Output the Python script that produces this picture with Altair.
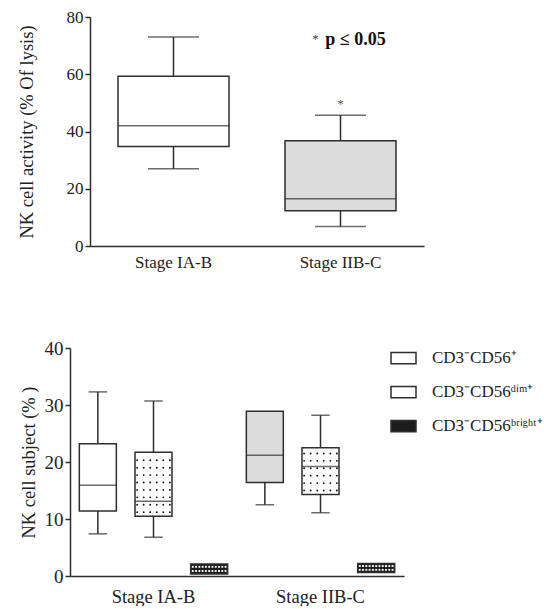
import altair as alt
import numpy as np
import pandas as pd

FONT = "Liberation Serif"
INK = "#2e2e2e"

# ---------------- top panel data ----------------
top_groups = ["Stage IA-B", "Stage IIB-C"]
top_min = [27.0, 6.8]
top_q1 = [34.8, 12.3]
top_median = [42.0, 16.5]
top_q3 = [59.3, 36.8]
top_max = [73.0, 45.7]
top_fill = ["#ffffff", "#dcdcdc"]
top_title = "NK cell activity (% Of lysis)"
sig_text = ["p ≤ 0.05"]
sig_star = ["*"]
sig_group = ["Stage IIB-C"]
sig_y = [72.0]
star_y = [49.5]

# ---------------- bottom panel data ----------------
bot_groups = ["Stage IA-B"] * 3 + ["Stage IIB-C"] * 3
bot_subset_idx = [0, 1, 2, 0, 1, 2]
subset_names = ["CD3⁻CD56⁺", "CD3⁻CD56ᵈⁱᵐ⁺", "CD3⁻CD56ᵇʳⁱᵍʰᵗ⁺"]
bot_min = [7.4, 6.8, 0.35, 12.5, 11.1, 0.6]
bot_q1 = [11.4, 10.5, 0.35, 16.4, 14.3, 0.6]
bot_median = [15.9, 13.1, 1.2, 21.2, 19.2, 1.4]
bot_q3 = [23.2, 21.7, 2.1, 28.9, 22.5, 2.2]
bot_max = [32.3, 30.7, 2.1, 28.9, 28.2, 2.2]
bot_fill = ["#ffffff", "#ffffff", "#1c1c1c", "#dcdcdc", "#ffffff", "#1c1c1c"]
bot_pattern = ["none", "dots", "checks", "none", "dots", "checks"]
bot_title = "NK cell subject (%  )"

# ---------------- top chart ----------------
top_df = pd.DataFrame(dict(group=top_groups, lo=top_min, q1=top_q1, med=top_median,
                           q3=top_q3, hi=top_max, fill=top_fill))

SHIFT = 20  # top panel starts further right than the bottom one
xt = alt.X("group:N", sort=top_groups,
           scale=alt.Scale(paddingInner=0, paddingOuter=0, range=[SHIFT, SHIFT + 334]),
           axis=alt.Axis(title=None, labelAngle=0, ticks=False, labelPadding=8,
                         labelFontSize=17, labelFont=FONT, labelColor="#222",
                         domainColor=INK, domainWidth=1.5))
yscale_t = alt.Scale(domain=[0, 80], nice=False)
yaxis_t = alt.Axis(values=[0, 20, 40, 60, 80], title=top_title, titleFont=FONT,
                   titleFontSize=18.5, titleFontWeight="normal", titleColor="#222",
                   titlePadding=30, tickSize=5, tickWidth=1.5, tickColor=INK,
                   labelPadding=2, labelFont=FONT, labelFontSize=17, labelColor="#222",
                   minExtent=24, maxExtent=24, offset=-SHIFT, grid=False,
                   domainColor=INK, domainWidth=1.5)

tb = alt.Chart(top_df)
t_whisk_hi = tb.mark_rule(color=INK, strokeWidth=1.5).encode(
    x=xt, y=alt.Y("hi:Q", scale=yscale_t, axis=yaxis_t), y2="q3:Q")
t_whisk_lo = tb.mark_rule(color=INK, strokeWidth=1.5).encode(
    x=xt, y=alt.Y("q1:Q", scale=yscale_t), y2="lo:Q")
t_box = tb.mark_bar(width=111, stroke=INK, strokeWidth=1.5).encode(
    x=xt, y=alt.Y("q1:Q", scale=yscale_t), y2="q3:Q", fill=alt.Fill("fill:N", scale=None))
t_med = tb.mark_tick(size=111, thickness=1.5, color=INK, orient="horizontal").encode(
    x=xt, y=alt.Y("med:Q", scale=yscale_t))
t_cap_hi = tb.mark_tick(size=51, thickness=1.5, color=INK, orient="horizontal").encode(
    x=xt, y=alt.Y("hi:Q", scale=yscale_t))
t_cap_lo = tb.mark_tick(size=51, thickness=1.5, color=INK, orient="horizontal").encode(
    x=xt, y=alt.Y("lo:Q", scale=yscale_t))

sig_df = pd.DataFrame(dict(group=sig_group, y=sig_y, text=sig_text, star=sig_star, sy=star_y))
t_sig = alt.Chart(sig_df).mark_text(font=FONT, fontSize=18, fontWeight="bold", color="#111",
                                    dx=15, baseline="middle").encode(
    x=xt, y=alt.Y("y:Q", scale=yscale_t), text="text:N")
t_sig_star = alt.Chart(sig_df).mark_text(font=FONT, fontSize=12, color="#333",
                                         dx=-25, dy=-1, baseline="middle").encode(
    x=xt, y=alt.Y("y:Q", scale=yscale_t), text="star:N")
t_star = alt.Chart(sig_df).mark_text(font=FONT, fontSize=13, color="#555",
                                     baseline="middle").encode(
    x=xt, y=alt.Y("sy:Q", scale=yscale_t), text="star:N")

top = alt.layer(t_whisk_hi, t_whisk_lo, t_box, t_med, t_cap_hi, t_cap_lo,
                t_sig, t_sig_star, t_star).properties(width=SHIFT + 334, height=229)

# ---------------- bottom chart ----------------
bot_cat = [f"{g}|{i}" for g, i in zip(bot_groups, bot_subset_idx)]
bot_df = pd.DataFrame(dict(cat=bot_cat, group=bot_groups,
                           subset=[subset_names[i] for i in bot_subset_idx],
                           lo=bot_min, q1=bot_q1, med=bot_median, q3=bot_q3, hi=bot_max,
                           fill=bot_fill))

# texture marks (dots / checks) placed inside the boxes from the box values
tex_rows = []
for c, pat, a, b in zip(bot_cat, bot_pattern, bot_q1, bot_q3):
    if pat == "dots":
        for yv in np.arange(a + 0.7, b - 0.3, 1.3):
            for col in range(3, 14, 2):
                tex_rows.append(dict(cat=c, col=col, y=float(yv), kind="dot"))
    elif pat == "checks":
        for frac in (0.3, 0.72):
            for col in range(3, 14):
                tex_rows.append(dict(cat=c, col=col, y=a + frac * (b - a), kind="check"))
tex_df = pd.DataFrame(tex_rows)

xb = alt.X("cat:N", sort=bot_cat,
           scale=alt.Scale(paddingInner=0, paddingOuter=0),
           axis=alt.Axis(title=None, labelAngle=0, ticks=False, labelPadding=11,
                         labelExpr="indexof(datum.value, '|1') > 0 ? split(datum.value, '|')[0] : ''",
                         labelFontSize=18.5, labelFont=FONT, labelColor="#222",
                         domainColor=INK, domainWidth=1.5))
yscale_b = alt.Scale(domain=[0, 40], nice=False)
yaxis_b = alt.Axis(values=[0, 10, 20, 30, 40], title=bot_title, titleFont=FONT,
                   titleFontSize=18.5, titleFontWeight="normal", titleColor="#222",
                   titlePadding=6, tickSize=5, tickWidth=1.5, tickColor=INK,
                   labelPadding=2, labelFont=FONT, labelFontSize=19, labelColor="#222",
                   minExtent=26, maxExtent=26, grid=False, domainColor=INK, domainWidth=1.5)

bb = alt.Chart(bot_df)
b_legend = bb.mark_square(size=1, stroke=INK, strokeWidth=1.5).encode(
    x=xb, y=alt.Y("med:Q", scale=yscale_b, axis=yaxis_b),
    fill=alt.Fill("subset:N", sort=subset_names,
                  scale=alt.Scale(domain=subset_names, range=["#ffffff", "#ffffff", "#1c1c1c"]),
                  legend=alt.Legend(orient="none", legendX=320, legendY=-3.5, title=None,
                                    symbolType="M-1,-0.45H1V0.45H-1Z", symbolSize=625,
                                    symbolStrokeColor=INK, symbolStrokeWidth=1.5,
                                    symbolOpacity=1, labelFont=FONT, labelFontSize=17,
                                    labelColor="#222", labelOffset=15, rowPadding=11,
                                    padding=0)))
b_whisk_hi = bb.mark_rule(color=INK, strokeWidth=1.5).encode(
    x=xb, y=alt.Y("hi:Q", scale=yscale_b), y2="q3:Q")
b_whisk_lo = bb.mark_rule(color=INK, strokeWidth=1.5).encode(
    x=xb, y=alt.Y("q1:Q", scale=yscale_b), y2="lo:Q")
b_box = bb.mark_bar(width=37, stroke=INK, strokeWidth=1.5).encode(
    x=xb, y=alt.Y("q1:Q", scale=yscale_b), y2="q3:Q", fill=alt.Fill("fill:N", scale=None))

xoff = alt.XOffset("col:O", scale=alt.Scale(domain=list(range(17)), paddingInner=0, paddingOuter=0.5))
b_dots = alt.Chart(tex_df).transform_filter("datum.kind == 'dot'").mark_circle(
    size=3.5, color="#111", opacity=1).encode(
    x=xb, xOffset=xoff, y=alt.Y("y:Q", scale=yscale_b))
b_checks = alt.Chart(tex_df).transform_filter("datum.kind == 'check'").mark_square(
    size=3.5, color="#ffffff", opacity=1).encode(
    x=xb, xOffset=xoff, y=alt.Y("y:Q", scale=yscale_b))

b_med = bb.mark_tick(size=37, thickness=1.5, color=INK, orient="horizontal").transform_filter(
    "datum.q3 - datum.q1 > 3").encode(x=xb, y=alt.Y("med:Q", scale=yscale_b))
b_cap_hi = bb.mark_tick(size=18.5, thickness=1.5, color=INK, orient="horizontal").transform_filter(
    "datum.hi > datum.q3").encode(x=xb, y=alt.Y("hi:Q", scale=yscale_b))
b_cap_lo = bb.mark_tick(size=18.5, thickness=1.5, color=INK, orient="horizontal").transform_filter(
    "datum.lo < datum.q1").encode(x=xb, y=alt.Y("lo:Q", scale=yscale_b))

bottom = alt.layer(b_legend, b_whisk_hi, b_whisk_lo, b_box, b_dots, b_checks,
                   b_med, b_cap_hi, b_cap_lo).resolve_scale(fill="independent").properties(
    width=334, height=228)

chart = alt.vconcat(top, bottom, spacing=69).properties(
    padding={"left": 17, "top": 8, "right": 0, "bottom": 0},
    background="white",
).configure_view(stroke=None)

chart.save("out.html", embed_options={"renderer": "svg", "actions": False})
